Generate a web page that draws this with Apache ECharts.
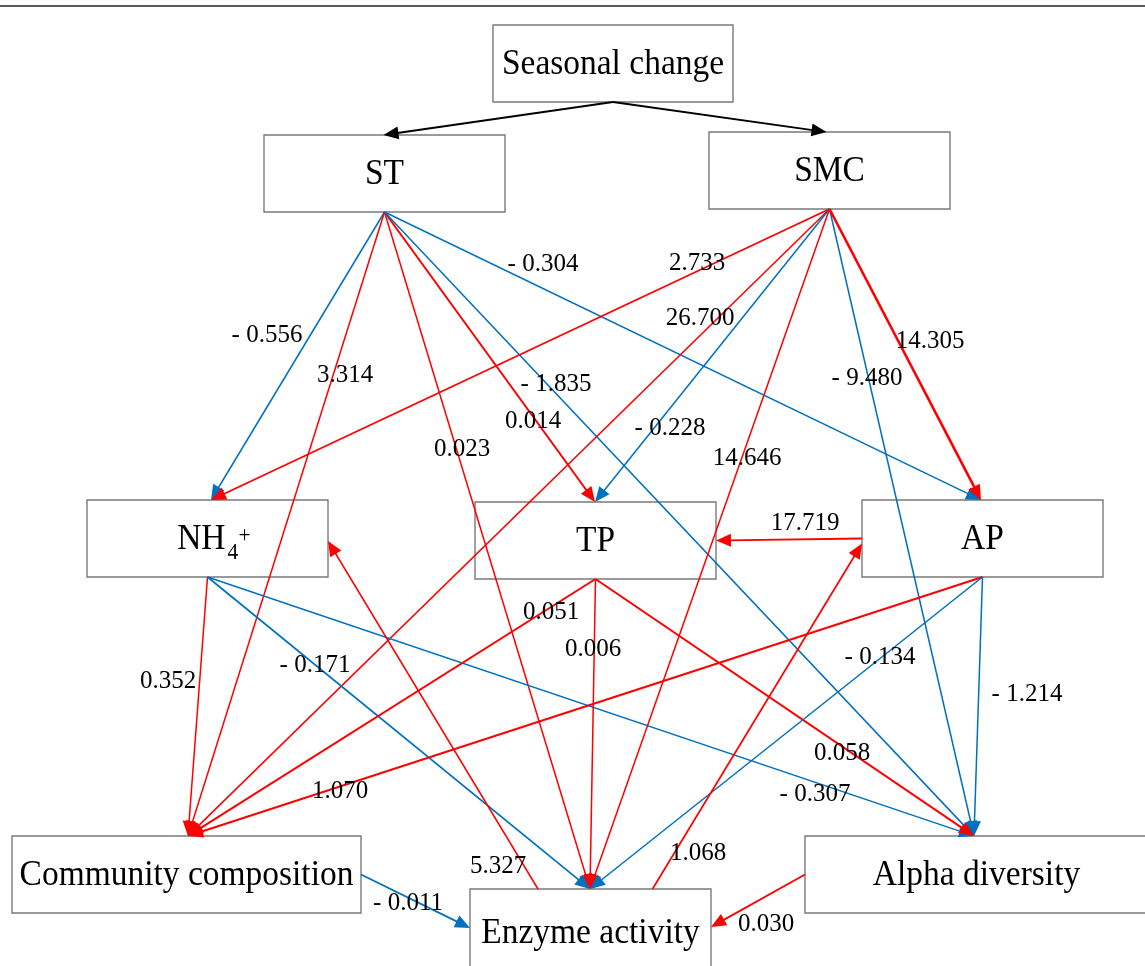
<!DOCTYPE html>
<html>
<head>
<meta charset="utf-8">
<script src="https://cdn.jsdelivr.net/npm/echarts@6/dist/echarts.min.js"></script>
<style>
  html, body { margin: 0; padding: 0; background: #ffffff; }
  #chart { width: 1145px; height: 966px; }
</style>
</head>
<body>
<div id="chart"></div>
<script>
// ---- Model variables ----
const nodeNames = ['Seasonal change', 'ST', 'SMC', 'NH4+', 'TP', 'AP',
  'Community composition', 'Enzyme activity', 'Alpha diversity'];

// Unlabelled links from the seasonal driver
const driverFrom = ['Seasonal change', 'Seasonal change'];
const driverTo = ['ST', 'SMC'];

// Path coefficients: source -> target
const pathFrom = ['ST', 'ST', 'ST', 'ST', 'ST', 'ST',
  'SMC', 'SMC', 'SMC', 'SMC', 'SMC', 'SMC',
  'NH4+', 'NH4+', 'NH4+',
  'TP', 'TP', 'TP',
  'AP', 'AP', 'AP', 'AP',
  'Enzyme activity', 'Enzyme activity',
  'Community composition', 'Alpha diversity'];
const pathTo = ['NH4+', 'Community composition', 'Enzyme activity', 'TP', 'Alpha diversity', 'AP',
  'NH4+', 'Community composition', 'TP', 'Enzyme activity', 'Alpha diversity', 'AP',
  'Community composition', 'Enzyme activity', 'Alpha diversity',
  'Community composition', 'Enzyme activity', 'Alpha diversity',
  'TP', 'Community composition', 'Enzyme activity', 'Alpha diversity',
  'NH4+', 'AP',
  'Enzyme activity', 'Enzyme activity'];
const pathCoef = [-0.556, 3.314, 0.023, 0.014, -1.835, -0.304,
  2.733, 26.700, -0.228, 14.646, -9.480, 14.305,
  0.352, -0.171, -0.307,
  0.051, 0.006, 0.058,
  17.719, 1.070, -0.134, -1.214,
  5.327, 1.068,
  -0.011, 0.030];

// ---- Layout (drawing space is 1145 x 966, y grows downward) ----
const boxLayout = {
  'Seasonal change':       [493, 25, 240, 77],
  'ST':                    [264, 135, 241, 77],
  'SMC':                   [709, 132, 241, 77],
  'NH4+':                  [87, 500, 241, 77],
  'TP':                    [475, 502, 241, 77],
  'AP':                    [862, 500, 241, 77],
  'Community composition': [12, 836, 349, 77],
  'Enzyme activity':       [470, 889, 241, 88],
  'Alpha diversity':       [805, 836, 343, 77]
};

// Port of each path end: [source side, shift, target side, shift]
const driverPorts = [['b', 0, 't', -1], ['b', 0, 't', -3]];
const pathPorts = [
  ['b', 0, 't', 3.5], ['b', 0, 't', 1.5], ['b', 0, 't', -0.5], ['b', 0, 't', -0.5], ['b', 0, 't', -2.5], ['b', 0, 't', -1.5],
  ['b', 0, 't', 3.5], ['b', 0, 't', 1.5], ['b', 0, 't', -0.5], ['b', 0, 't', -0.5], ['b', 0, 't', -2.5], ['b', 0, 't', -1.5],
  ['b', 0, 't', 1.5], ['b', 0, 't', -0.5], ['b', 0, 't', -2.5],
  ['b', 0, 't', 1.5], ['b', 0, 't', -0.5], ['b', 0, 't', -2.5],
  ['l', 0, 'r', 0], ['b', 0, 't', 1.5], ['b', 0, 't', -0.5], ['b', 0, 't', -2.5],
  ['t', -52.5, 'r', 2.5], ['t', 62, 'l', 5],
  ['r', 0, 'l', -5], ['l', 0, 'r', -6]
];

// Where each coefficient is written
const labelPos = [
  [267, 333], [345, 373], [462, 447], [533, 419], [556, 382], [543, 262],
  [697, 261], [700, 316], [670, 426], [747, 456], [867, 376], [930, 339],
  [168, 679], [315, 663], [815, 792],
  [551, 610], [593, 647], [842, 751],
  [805, 521], [340, 789], [880, 655], [1027, 692],
  [498, 864], [698, 851],
  [408, 901], [766, 922]
];

// Stroke widths of the paths
const pathWidth = [
  1.5, 1.5, 1.5, 2, 1.5, 1.5,
  1.8, 1.5, 1.5, 1.5, 1.5, 2.6,
  1.5, 1.7, 1.5,
  2, 1.5, 2,
  1.8, 2, 1.5, 1.5,
  1.5, 1.7,
  1.7, 1.8
];

const POS_COLOR = '#FF0000';
const NEG_COLOR = '#0070C0';
const SERIF = '"Liberation Serif", "Times New Roman", serif';
const BOX_FONT = 36;
const BOX_SCALE_X = 0.93;
const LABEL_FONT = 25;

function port(name, side, shift) {
  const b = boxLayout[name];
  const cx = b[0] + b[2] / 2, cy = b[1] + b[3] / 2;
  if (side === 'b') return [cx + shift, b[1] + b[3]];
  if (side === 't') return [cx + shift, b[1]];
  if (side === 'l') return [b[0], cy + shift];
  return [b[0] + b[2], cy + shift];
}

function fmtCoef(v) {
  return v < 0 ? '- ' + Math.abs(v).toFixed(3) : v.toFixed(3);
}

// Line with a filled triangular head, in pixel space
function arrowShapes(p0, p1, color, width) {
  const dx = p1[0] - p0[0], dy = p1[1] - p0[1];
  const len = Math.sqrt(dx * dx + dy * dy);
  const ux = dx / len, uy = dy / len;
  const L = 15, H = 6.5;
  const bx = p1[0] - ux * L, by = p1[1] - uy * L;
  const nx = -uy, ny = ux;
  return [
    {
      type: 'line',
      shape: { x1: p0[0], y1: p0[1], x2: p1[0] - ux * L * 0.7, y2: p1[1] - uy * L * 0.7 },
      style: { stroke: color, lineWidth: width, fill: null }
    },
    {
      type: 'polygon',
      shape: { points: [[p1[0], p1[1]], [bx + nx * H, by + ny * H], [bx - nx * H, by - ny * H]] },
      style: { fill: color, stroke: null }
    }
  ];
}

function textEl(str, x, y, size, align, scaleX) {
  const el = {
    type: 'text',
    style: {
      text: str, x: x, y: y,
      font: size + 'px ' + SERIF,
      fill: '#000000',
      align: align || 'center', verticalAlign: 'middle',
      textAlign: align || 'center', textVerticalAlign: 'middle'
    }
  };
  if (scaleX) {
    el.scaleX = scaleX;
    el.originX = x;
    el.originY = y;
  }
  return el;
}

const chart = echarts.init(document.getElementById('chart'), null, { renderer: 'canvas' });

const option = {
  backgroundColor: '#ffffff',
  animation: false,
  grid: { left: 0, right: 0, top: 0, bottom: 0 },
  xAxis: { type: 'value', min: 0, max: 1145, show: false },
  yAxis: { type: 'value', min: 0, max: 966, inverse: true, show: false },
  graphic: [{
    type: 'line',
    shape: { x1: 0, y1: 6, x2: 1145, y2: 6 },
    style: { stroke: '#5a5a5a', lineWidth: 2 }
  }],
  series: [
    {
      // variable boxes
      type: 'custom',
      coordinateSystem: 'cartesian2d',
      silent: true,
      z: 1,
      data: nodeNames.map((n, i) => [i, 0]),
      renderItem: function (params, api) {
        const name = nodeNames[params.dataIndex];
        const b = boxLayout[name];
        const p0 = api.coord([b[0], b[1]]);
        const p1 = api.coord([b[0] + b[2], b[1] + b[3]]);
        const cx = (p0[0] + p1[0]) / 2;
        const cy = name === 'Enzyme activity' ? p0[1] + 45 : (p0[1] + p1[1]) / 2 + 1.5;
        const children = [{
          type: 'rect',
          shape: { x: p0[0], y: p0[1], width: p1[0] - p0[0], height: p1[1] - p0[1] },
          style: { fill: 'rgba(255,255,255,0)', stroke: '#7a7a7a', lineWidth: 1.4 }
        }];
        if (name === 'NH4+') {
          children.push(textEl('NH', cx + 18, cy, BOX_FONT, 'right', BOX_SCALE_X));
          children.push(textEl('4', cx + 20, cy + 13, 23, 'left', BOX_SCALE_X));
          children.push(textEl('+', cx + 31, cy - 4, 23, 'left', BOX_SCALE_X));
        } else {
          children.push(textEl(name, cx, cy, BOX_FONT, 'center', BOX_SCALE_X));
        }
        return { type: 'group', children: children };
      }
    },
    {
      // seasonal driver links
      type: 'custom',
      coordinateSystem: 'cartesian2d',
      silent: true,
      z: 2,
      data: driverFrom.map((n, i) => [i, 0]),
      renderItem: function (params, api) {
        const i = params.dataIndex;
        const pp = driverPorts[i];
        const s = api.coord(port(driverFrom[i], pp[0], pp[1]));
        const t = api.coord(port(driverTo[i], pp[2], pp[3]));
        return { type: 'group', children: arrowShapes(s, t, '#000000', 1.8) };
      }
    },
    {
      // coefficient paths with their labels
      type: 'custom',
      coordinateSystem: 'cartesian2d',
      silent: true,
      z: 3,
      data: pathCoef.map((c, i) => [i, c]),
      renderItem: function (params, api) {
        const i = params.dataIndex;
        const coef = pathCoef[i];
        const color = coef < 0 ? NEG_COLOR : POS_COLOR;
        const pp = pathPorts[i];
        const s = api.coord(port(pathFrom[i], pp[0], pp[1]));
        const t = api.coord(port(pathTo[i], pp[2], pp[3]));
        const lp = api.coord(labelPos[i]);
        const children = arrowShapes(s, t, color, pathWidth[i]);
        children.push(textEl(fmtCoef(coef), lp[0], lp[1] + 2, LABEL_FONT, 'center'));
        return { type: 'group', children: children };
      }
    }
  ]
};

chart.setOption(option);
</script>
</body>
</html>
